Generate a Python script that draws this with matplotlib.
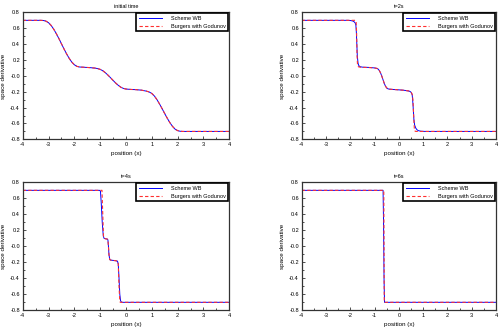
import numpy as np
import matplotlib.pyplot as plt

plt.rcParams['font.family'] = ['Liberation Sans', 'DejaVu Sans']
plt.rcParams['axes.unicode_minus'] = False

# initial time (both schemes coincide)
x0 = [-4.0, -3.3, -3.2, -3.1, -3.0, -2.9, -2.8, -2.7, -2.6, -2.5,
      -2.4, -2.3, -2.2, -2.1, -2.0, -1.9, -1.8, -1.6, -1.4, -1.2,
      -1.1, -1.0, -0.9, -0.8, -0.7, -0.6, -0.5, -0.4, -0.3, -0.2,
      -0.1, 0.0, 0.2, 0.4, 0.6, 0.8, 0.9, 1.0, 1.1, 1.2,
      1.3, 1.4, 1.5, 1.6, 1.7, 1.8, 1.9, 2.0, 2.1, 2.2, 4.0]
y0 = [0.700, 0.700, 0.698, 0.690, 0.670, 0.636, 0.589, 0.533, 0.471, 0.405,
      0.339, 0.277, 0.221, 0.174, 0.140, 0.120, 0.112, 0.108, 0.104, 0.098,
      0.092, 0.082, 0.065, 0.040, 0.010, -0.023, -0.057, -0.090, -0.119, -0.143,
      -0.158, -0.166, -0.171, -0.174, -0.180, -0.193, -0.203, -0.222, -0.254, -0.300,
      -0.355, -0.414, -0.476, -0.535, -0.590, -0.636, -0.671, -0.690, -0.698, -0.700, -0.700]

# t = 2s
x2_wb = [-4.0, -2.1, -2.0, -1.9, -1.85, -1.8, -1.77, -1.75, -1.73, -1.71,
         -1.68, -1.65, -1.6, -1.5, -1.2, -1.0, -0.9, -0.85, -0.8, -0.75,
         -0.7, -0.65, -0.6, -0.55, -0.5, -0.45, -0.4, -0.2, 0.0, 0.2,
         0.4, 0.45, 0.5, 0.55, 0.58, 0.6, 0.62, 0.65, 0.7, 0.75,
         0.8, 0.9, 1.0, 1.1, 4.0]
y2_wb = [0.700, 0.700, 0.698, 0.692, 0.684, 0.668, 0.64, 0.55, 0.40, 0.25,
         0.16, 0.13, 0.116, 0.110, 0.106, 0.100, 0.094, 0.085, 0.065, 0.035,
         -0.005, -0.050, -0.095, -0.130, -0.152, -0.163, -0.167, -0.172, -0.176, -0.181,
         -0.190, -0.195, -0.205, -0.24, -0.35, -0.45, -0.55, -0.62, -0.66, -0.68,
         -0.69, -0.697, -0.699, -0.700, -0.700]
x2_gd = [-4.0, -1.8, -1.76, -1.74, -1.72, -1.70, -1.66, -1.6, -1.5, -1.2,
         -1.0, -0.9, -0.85, -0.8, -0.75, -0.7, -0.65, -0.6, -0.55, -0.5,
         -0.45, -0.4, -0.2, 0.0, 0.2, 0.4, 0.45, 0.5, 0.55, 0.58,
         0.61, 0.64, 0.67, 0.7, 4.0]
y2_gd = [0.700, 0.700, 0.690, 0.55, 0.25, 0.13, 0.114, 0.110, 0.108, 0.104,
         0.100, 0.094, 0.085, 0.065, 0.035, -0.005, -0.050, -0.095, -0.130, -0.152,
         -0.163, -0.167, -0.172, -0.176, -0.181, -0.190, -0.195, -0.205, -0.23, -0.30,
         -0.50, -0.68, -0.697, -0.700, -0.700]

# t = 4s
x4_wb = [-4.0, -1.02, -0.99, -0.96, -0.92, -0.88, -0.85, -0.8, -0.72, -0.70,
         -0.68, -0.66, -0.63, -0.6, -0.5, -0.4, -0.33, -0.30, -0.27, -0.24,
         -0.21, -0.18, -0.15, 4.0]
y4_wb = [0.700, 0.700, 0.69, 0.55, 0.30, 0.13, 0.10, 0.095, 0.090, 0.080,
         0.0, -0.10, -0.165, -0.172, -0.176, -0.180, -0.185, -0.22, -0.40, -0.60,
         -0.68, -0.697, -0.700, -0.700]
x4_gd = [-4.0, -0.93, -0.90, -0.87, -0.84, -0.8, -0.72, -0.70, -0.68, -0.66,
         -0.63, -0.6, -0.5, -0.4, -0.33, -0.30, -0.27, -0.24, -0.22, 4.0]
y4_gd = [0.700, 0.700, 0.40, 0.12, 0.10, 0.095, 0.090, 0.080, 0.0, -0.10,
         -0.165, -0.172, -0.176, -0.180, -0.185, -0.22, -0.50, -0.69, -0.700, -0.700]

# t = 6s
x6_wb = [-4.0, -0.65, -0.63, -0.61, -0.59, 4.0]
y6_wb = [0.700, 0.700, 0.30, -0.40, -0.700, -0.700]
x6_gd = [-4.0, -0.62, -0.60, 4.0]
y6_gd = [0.700, 0.700, -0.700, -0.700]

titles = ['initial time', 't=2s', 't=4s', 't=6s']
series = [(x0, y0, x0, y0), (x2_wb, y2_wb, x2_gd, y2_gd),
          (x4_wb, y4_wb, x4_gd, y4_gd), (x6_wb, y6_wb, x6_gd, y6_gd)]
positions = [[0.0454, 0.584, 0.4132, 0.379], [0.6034, 0.584, 0.3886, 0.379],
             [0.0454, 0.0737, 0.4132, 0.382], [0.6034, 0.0737, 0.3886, 0.382]]

fig = plt.figure(figsize=(5, 3.35), dpi=100)
fs = 4

for pos, title, (xa, ya, xb, yb) in zip(positions, titles, series):
    ax = fig.add_axes(pos)
    ax.plot(xa, ya, color='#0000ff', lw=0.7, label='Scheme WB')
    ax.plot(xb, yb, color='#ff3030', lw=0.8, ls=(0, (3, 2)), label='Burgers with Godunov')
    ax.set_xlim(-4, 4)
    ax.set_ylim(-0.8, 0.8)
    ax.set_xticks(np.arange(-4, 5, 1))
    ax.set_yticks(np.arange(-0.8, 0.81, 0.2))
    ax.set_yticklabels(['%.1f' % v for v in np.arange(-0.8, 0.81, 0.2)])
    ax.set_xticks(np.arange(-4, 4.01, 0.5), minor=True)
    ax.set_yticks(np.arange(-0.8, 0.81, 0.1), minor=True)
    ax.tick_params(which='both', direction='in', labelsize=fs, pad=2, width=0.6, color='#333333')
    ax.tick_params(which='major', length=2.5)
    ax.tick_params(which='minor', length=1.5)
    for s in ax.spines.values():
        s.set_linewidth(0.9)
        s.set_color('#333333')
    ax.set_title(title, fontsize=fs, pad=3)
    ax.set_xlabel('position (x)', fontsize=fs + 0.5, labelpad=3)
    ax.set_ylabel('space derivative', fontsize=fs + 0.5, labelpad=3)
    leg = ax.legend(loc='upper right', fontsize=fs, handlelength=4.2,
                    handletextpad=1.6, borderaxespad=0.15, fancybox=False,
                    framealpha=1, edgecolor='black', borderpad=0.45,
                    labelspacing=0.55)
    leg.get_frame().set_linewidth(1.2)

fig.savefig('out.png', dpi=100)
